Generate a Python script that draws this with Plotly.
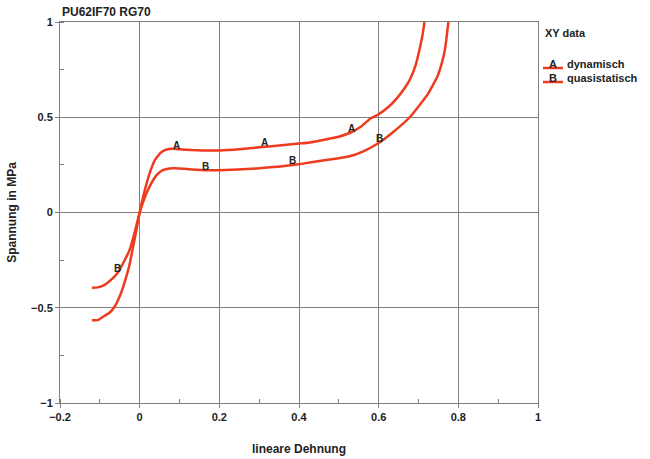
import numpy as np
import plotly.graph_objects as go

# Stress-strain curves (lineare Dehnung vs. Spannung in MPa)
dyn_x = [-0.12, -0.105, -0.09, -0.075, -0.063, -0.05, -0.038, -0.025, -0.018, -0.008, 0.0,
         0.012, 0.025, 0.038, 0.054, 0.068, 0.085, 0.1, 0.13, 0.158, 0.2, 0.25, 0.3, 0.35, 0.4,
         0.427, 0.47, 0.5, 0.53, 0.555, 0.577, 0.6, 0.625, 0.645, 0.665, 0.68, 0.693,
         0.703, 0.71, 0.715]
dyn_y = [-0.565, -0.565, -0.545, -0.525, -0.495, -0.44, -0.368, -0.27, -0.195, -0.09, 0.0,
         0.11, 0.205, 0.275, 0.316, 0.331, 0.334, 0.332, 0.328, 0.326, 0.326, 0.332, 0.342, 0.352, 0.362,
         0.368, 0.385, 0.398, 0.42, 0.45, 0.49, 0.516, 0.555, 0.598, 0.652, 0.705, 0.775,
         0.86, 0.93, 1.0]

qs_x = [-0.12, -0.105, -0.088, -0.07, -0.055, -0.04, -0.025, -0.012, 0.0,
        0.012, 0.025, 0.042, 0.058, 0.075, 0.09, 0.12, 0.168, 0.2, 0.3, 0.4, 0.427, 0.5,
        0.527, 0.56, 0.6, 0.635, 0.678, 0.723, 0.748, 0.758, 0.765, 0.77, 0.775]
qs_y = [-0.395, -0.393, -0.38, -0.35, -0.316, -0.26, -0.195, -0.1, 0.0,
        0.075, 0.137, 0.195, 0.222, 0.231, 0.232, 0.228, 0.222, 0.222, 0.232, 0.253, 0.263, 0.285,
        0.295, 0.32, 0.365, 0.42, 0.5, 0.62, 0.716, 0.78, 0.84, 0.91, 1.0]

# Curve marker letters and where they sit along each curve
dyn_label_x = [0.093, 0.314, 0.532]
qs_label_x = [-0.055, 0.166, 0.384, 0.602]

x_ticks = [-0.2, 0, 0.2, 0.4, 0.6, 0.8, 1]
x_ticktext = ["\u22120.2", "0", "0.2", "0.4", "0.6", "0.8", "1"]
y_ticks = [-1, -0.5, 0, 0.5, 1]
y_ticktext = ["\u22121", "\u22120.5", "0", "0.5", "1"]

series = [
    ("A", "dynamisch", dyn_x, dyn_y, dyn_label_x),
    ("B", "quasistatisch", qs_x, qs_y, qs_label_x),
]

RED = "#ee3b1e"
FONT = "Liberation Sans"
TXT = "#222222"
GRID = "#7f7f7f"

W, H = 650, 459
L, R, T, B = 60, 112, 22, 56


def px(x):
    return (x - L) / (W - L - R)


def py(y):
    return (H - B - y) / (H - T - B)


fig = go.Figure()
annotations = []
shapes = []

for i, (letter, name, xs, ys, lx) in enumerate(series):
    fig.add_trace(go.Scatter(
        x=xs, y=ys, mode="lines", name=name, showlegend=False,
        line=dict(color=RED, width=2.5, shape="spline", smoothing=0.4),
    ))
    ly = np.interp(lx, xs, ys)
    for xv, yv in zip(lx, ly):
        annotations.append(dict(
            x=xv, y=float(yv), xref="x", yref="y", text=letter, showarrow=False,
            yshift=4, font=dict(family=FONT, size=10, color=TXT, weight="bold"),
        ))
    # legend entry: letter over a short red line, then the series name
    ty = 64 + 14 * i
    shapes.append(dict(type="line", xref="paper", yref="paper",
                       x0=px(543), x1=px(563), y0=py(ty + 4), y1=py(ty + 4),
                       line=dict(color=RED, width=2.5)))
    annotations.append(dict(x=px(553), y=py(ty), xref="paper", yref="paper", text=letter,
                            showarrow=False, xanchor="center", yanchor="middle",
                            font=dict(family=FONT, size=11, color=TXT, weight="bold")))
    annotations.append(dict(x=px(565), y=py(ty), xref="paper", yref="paper", text=name,
                            showarrow=False, xanchor="left", yanchor="middle",
                            font=dict(family=FONT, size=11, color=TXT, weight="bold")))

annotations.append(dict(x=px(543), y=py(33), xref="paper", yref="paper", text="XY data",
                        showarrow=False, xanchor="left", yanchor="middle",
                        font=dict(family=FONT, size=11, color=TXT, weight="bold")))
annotations.append(dict(x=px(60), y=py(12), xref="paper", yref="paper", text="PU62IF70 RG70",
                        showarrow=False, xanchor="left", yanchor="middle",
                        font=dict(family=FONT, size=12, color=TXT, weight="bold")))

axis_common = dict(
    showgrid=True, gridcolor=GRID, gridwidth=1,
    showline=True, linecolor=GRID, linewidth=1, mirror=True,
    ticks="outside", ticklen=4, tickcolor=GRID,
    zeroline=False, automargin=False,
    tickfont=dict(family=FONT, size=11, color=TXT, weight="bold"),
)

fig.update_layout(
    width=W, height=H,
    margin=dict(l=L, r=R, t=T, b=B),
    plot_bgcolor="white", paper_bgcolor="white",
    xaxis=dict(range=[-0.2, 1], tickvals=x_ticks, ticktext=x_ticktext,
               minor=dict(ticks="inside", dtick=0.1, ticklen=4, tickcolor=GRID, showgrid=False),
               title=dict(text="lineare Dehnung", standoff=22,
                          font=dict(family=FONT, size=12, color=TXT, weight="bold")),
               **axis_common),
    yaxis=dict(range=[-1, 1], tickvals=y_ticks, ticktext=y_ticktext,
               minor=dict(ticks="inside", dtick=0.25, ticklen=4, tickcolor=GRID, showgrid=False),
               title=dict(text="Spannung in MPa", standoff=11,
                          font=dict(family=FONT, size=12, color=TXT, weight="bold")),
               **axis_common),
    annotations=annotations,
    shapes=shapes,
)

fig.write_html("out.html")
